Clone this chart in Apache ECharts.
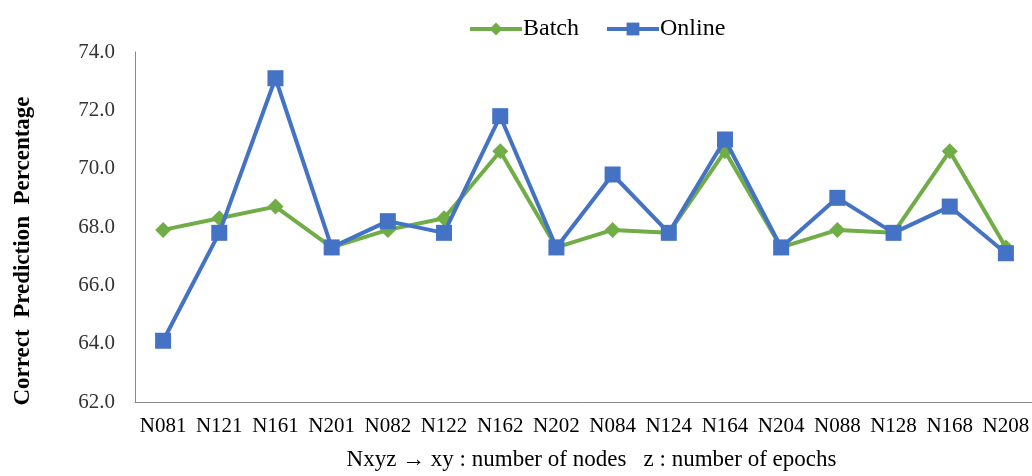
<!DOCTYPE html>
<html>
<head>
<meta charset="utf-8">
<script src="https://cdn.jsdelivr.net/npm/echarts@6/dist/echarts.min.js"></script>
<style>html,body{margin:0;padding:0;background:#fff}#c{width:1032px;height:476px}</style>
</head>
<body>
<div id="c"></div>
<script>
const categories = ['N081','N121','N161','N201','N082','N122','N162','N202','N084','N124','N164','N204','N088','N128','N168','N208'];
const batch  = [67.9, 68.3, 68.7, 67.3, 67.9, 68.3, 70.6, 67.3, 67.9, 67.8, 70.6, 67.3, 67.9, 67.8, 70.6, 67.3];
const online = [64.1, 67.8, 73.1, 67.3, 68.2, 67.8, 71.8, 67.3, 69.8, 67.8, 71.0, 67.3, 69.0, 67.8, 68.7, 67.1];
const yTicks = { min: 62, max: 74, interval: 2 };

const font = 'Liberation Serif, Times New Roman, serif';
const chart = echarts.init(document.getElementById('c'));
chart.setOption({
  animation: false,
  backgroundColor: '#fff',
  grid: { left: 135, right: -2, top: 52, bottom: 74, outerBoundsMode: 'none', containLabel: false },
  legend: {
    top: 12, left: 463,
    itemWidth: 52, itemHeight: 16, itemGap: 26,
    lineStyle: { width: 4 },
    textStyle: { fontFamily: font, fontSize: 24, color: '#000', padding: [0, 0, 0, -4] },
    data: ['Batch', 'Online']
  },
  graphic: [{
    type: 'text',
    rotation: Math.PI / 2,
    x: 23, y: 251,
    style: { text: 'Correct  Prediction  Percentage', font: 'bold 23px ' + font, fill: '#000', textAlign: 'center', textVerticalAlign: 'middle' }
  }],
  xAxis: {
    type: 'category', data: categories, boundaryGap: true,
    axisLine: { lineStyle: { color: '#888', width: 1 } },
    axisTick: { show: false },
    axisLabel: { fontFamily: font, fontSize: 21, color: '#000', margin: 14, interval: 0 },
    name: 'Nxyz \u2192 xy : number of nodes   z : number of epochs',
    nameLocation: 'middle', nameGap: 46,
    nameTextStyle: { fontFamily: font, fontSize: 23, color: '#000', padding: [0, 0, 0, 14] }
  },
  yAxis: {
    type: 'value', min: yTicks.min, max: yTicks.max, interval: yTicks.interval,
    axisLine: { show: true, lineStyle: { color: '#888', width: 1 } },
    axisTick: { show: false },
    splitLine: { show: false },
    axisLabel: { fontFamily: font, fontSize: 21, color: '#333', margin: 20, formatter: v => v.toFixed(1) }
  },
  series: [
    {
      name: 'Batch', type: 'line', data: batch,
      symbol: 'diamond', symbolSize: 16,
      lineStyle: { color: '#70AD47', width: 4 },
      itemStyle: { color: '#70AD47' }, z: 2
    },
    {
      name: 'Online', type: 'line', data: online,
      symbol: 'rect', symbolSize: 16,
      lineStyle: { color: '#4472C4', width: 4 },
      itemStyle: { color: '#4472C4' }, z: 3
    }
  ]
});
</script>
</body>
</html>
